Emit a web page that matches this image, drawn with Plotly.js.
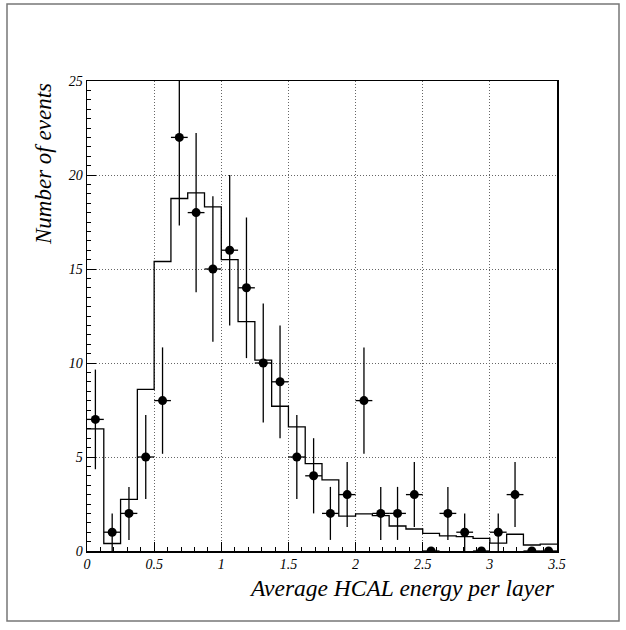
<!DOCTYPE html>
<html>
<head>
<meta charset="utf-8">
<script src="https://cdn.plot.ly/plotly-3.0.1.min.js"></script>
</head>
<body style="margin:0;background:#fff">
<div id="chart"></div>
<script>
// Binning: 28 bins from 0 to 3.5
const binLow = 0;
const binWidth = 0.125;
// Data (points with errors)
const dataCounts = [7, 1, 2, 5, 8, 22, 18, 15, 16, 14, 10, 9, 5, 4, 2, 3, 8, 2, 2, 3, 0, 2, 1, 0, 1, 3, 0, 0];
const dataErrors = [2.65, 1, 1.41, 2.24, 2.83, 4.69, 4.24, 3.87, 4, 3.74, 3.16, 3, 2.24, 2, 1.41, 1.73, 2.83, 1.41, 1.41, 1.73, 0, 1.41, 1, 0, 1, 1.73, 0, 0];
// Simulation histogram (step outline)
const mcCounts = [6.5, 0.4, 2.75, 8.6, 15.4, 18.75, 19.05, 18.3, 15.5, 12.2, 10.15, 7.7, 6.6, 4.65, 3.78, 1.85, 1.97, 1.88, 1.33, 1.17, 0.94, 0.8, 0.76, 0.67, 0.42, 0.89, 0.32, 0.37];
const xTickVals = [0, 0.5, 1, 1.5, 2, 2.5, 3, 3.5];
const xTickText = ['0', '0.5', '1', '1.5', '2', '2.5', '3', '3.5'];
const yTickVals = [0, 5, 10, 15, 20, 25];
const yTickText = ['0', '5', '10', '15', '20', '25'];
const xTitle = 'Average HCAL energy per layer';
const yTitle = 'Number of events';

const centers = dataCounts.map((_, i) => binLow + (i + 0.5) * binWidth);
const edges = mcCounts.map((_, i) => binLow + i * binWidth).concat([binLow + mcCounts.length * binWidth]);
const stepY = mcCounts.concat([mcCounts[mcCounts.length - 1]]);

const fam = 'Liberation Serif';

const traces = [
  {
    x: edges, y: stepY, type: 'scatter', mode: 'lines',
    line: {shape: 'hv', color: '#000', width: 1.3},
    hoverinfo: 'skip', showlegend: false
  },
  {
    x: centers, y: dataCounts, type: 'scatter', mode: 'markers',
    marker: {color: '#000', size: 9, symbol: 'circle'},
    error_y: {type: 'data', array: dataErrors, visible: true, color: '#000', thickness: 1.3, width: 0},
    error_x: {type: 'constant', value: binWidth / 2, visible: true, color: '#000', thickness: 1.3, width: 0},
    showlegend: false
  }
];

// plot area in pixels
const L = 87, R = 557, T = 81, B = 551;
const W = 626, H = 630;
const px = v => (v - L) / (R - L);
const py = v => (B - v) / (B - T);

const layout = {
  width: W, height: H,
  margin: {l: L, r: W - R, t: T, b: H - B, pad: 0},
  paper_bgcolor: '#fff', plot_bgcolor: '#fff',
  showlegend: false,
  xaxis: {
    range: [0, 3.5], tickvals: xTickVals, ticktext: xTickText,
    ticks: 'inside', ticklen: 9, tickwidth: 1, tickcolor: '#000',
    minor: {dtick: 0.1, ticks: 'inside', ticklen: 4, tickcolor: '#000', showgrid: false},
    showline: true, linecolor: '#000', linewidth: 1.5, mirror: true,
    showgrid: true, gridcolor: '#666', griddash: '1px,2px', gridwidth: 1,
    zeroline: false,
    tickfont: {family: fam, size: 14, color: '#000', style: 'italic'},
    fixedrange: true
  },
  yaxis: {
    range: [0, 25], tickvals: yTickVals, ticktext: yTickText,
    ticks: 'inside', ticklen: 9, tickwidth: 1, tickcolor: '#000',
    minor: {dtick: 0.5, ticks: 'inside', ticklen: 4, tickcolor: '#000', showgrid: false},
    showline: true, linecolor: '#000', linewidth: 1.5, mirror: true,
    showgrid: true, gridcolor: '#666', griddash: '1px,2px', gridwidth: 1,
    zeroline: false,
    tickfont: {family: fam, size: 14, color: '#000', style: 'italic'},
    fixedrange: true
  },
  annotations: [
    {
      text: xTitle, xref: 'paper', yref: 'paper', x: 1, y: py(588),
      xanchor: 'right', yanchor: 'middle', showarrow: false,
      font: {family: fam, size: 23.5, color: '#000', style: 'italic'}
    },
    {
      text: yTitle, xref: 'paper', yref: 'paper', x: px(43), y: 1,
      xanchor: 'center', yanchor: 'top', textangle: -90, showarrow: false,
      font: {family: fam, size: 23, color: '#000', style: 'italic'}
    }
  ],
  shapes: [
    {
      type: 'rect', xref: 'paper', yref: 'paper',
      x0: px(7), x1: px(619), y0: py(621), y1: py(4),
      line: {color: '#777', width: 1.5}, fillcolor: 'rgba(0,0,0,0)', layer: 'below'
    }
  ]
};

Plotly.newPlot('chart', traces, layout, {displayModeBar: false, staticPlot: true});
</script>
</body>
</html>
